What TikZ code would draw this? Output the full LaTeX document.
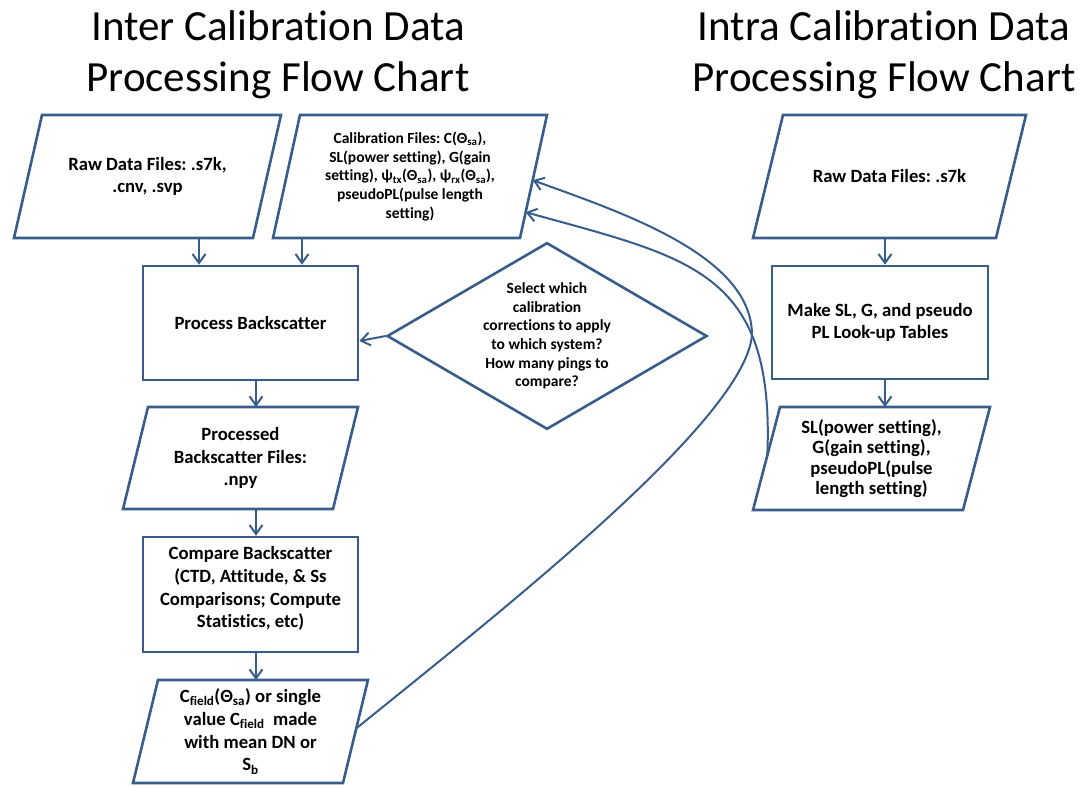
\documentclass[tikz,border=0pt]{standalone}
\usepackage{fontspec}
\setmainfont{Carlito}[Ligatures=NoCommon]
\usetikzlibrary{shapes.geometric,arrows.meta,calc}
\definecolor{bord}{RGB}{56,93,138}
\frenchspacing
\newcommand{\drawpara}[2]{%
  \draw[pline] ([xshift=#2]#1.north west) -- (#1.north east) --
    ([xshift=-#2]#1.south east) -- (#1.south west) -- cycle;}
\begin{document}
\begin{tikzpicture}[x=1pt,y=-1pt,
  box/.style={draw=bord, line width=2.6pt, fill=white, rectangle, inner sep=0pt},
  paranode/.style={rectangle, inner sep=0pt, outer sep=0pt},
  pline/.style={draw=bord, line width=2.6pt, line join=miter},
  tbig/.style={font=\bfseries\fontsize{18.7}{22.7}\selectfont, align=center},
  tsl/.style={font=\bfseries\fontsize{18.7}{20.3}\selectfont, align=center},
  tsmall/.style={font=\bfseries\fontsize{15.5}{18.7}\selectfont, align=center},
  arr/.style={draw=bord, line width=2pt, -{Straight Barb[length=9pt,width=13pt]}},
  ttl/.style={font=\fontsize{43}{51}\selectfont, align=center}]
\useasboundingbox (0,0) rectangle (1089,786);

\node[ttl] (title1) at (278,55) {Inter Calibration Data\\Processing Flow Chart};
\node[ttl] (title2) at (884,55) {Intra Calibration Data\\Processing Flow Chart};

% left column
\node[paranode, tbig, minimum width=267pt, minimum height=123pt] (raw1) at (147.5,176.5)
      {Raw Data Files: .s7k,\\.cnv, .svp};
\drawpara{raw1}{28pt}
\node[paranode, tsmall, minimum width=274pt, minimum height=123pt] (cal) at (410,176.5)
      {Calibration Files: C(Θ\textsubscript{sa}),\\SL(power setting), G(gain\\setting), ψ\textsubscript{tx}(Θ\textsubscript{sa}), ψ\textsubscript{rx}(Θ\textsubscript{sa}),\\pseudoPL(pulse length\\setting)};
\drawpara{cal}{27pt}
\node[box, tbig, minimum width=215pt, minimum height=114pt] (proc) at (250.5,323)
      {Process Backscatter};
\node[diamond, draw=bord, line width=2.6pt, fill=white, tsmall, inner sep=-12pt,
      minimum width=320pt, minimum height=178pt] (dia) at (547,336)
      {Select which\\calibration\\corrections to apply\\to which system?\\How many pings to\\compare?};
\node[paranode, tbig, minimum width=235pt, minimum height=102pt] (pbs) at (240.5,458)
      {Processed\\Backscatter Files:\\.npy};
\drawpara{pbs}{25pt}
\node[box, minimum width=215pt, minimum height=115pt,
      label={[tbig, yshift=6pt]center:{Compare Backscatter\\(CTD, Attitude, \& Ss\\Comparisons; Compute\\Statistics, etc)}}]
      (cmp) at (250.5,594.5) {};
\node[paranode, tbig, minimum width=235pt, minimum height=103pt] (cf) at (250.5,731.5)
      {C\textsubscript{field}(Θ\textsubscript{sa}) or single\\value C\textsubscript{field}~~made\\with mean DN or\\S\textsubscript{b}};
\drawpara{cf}{25pt}

% right column
\node[paranode, tbig, minimum width=273pt, minimum height=123pt] (raw2) at (889.5,176.5)
      {Raw Data Files: .s7k};
\drawpara{raw2}{30pt}
\node[box, tbig, minimum width=216pt, minimum height=113pt] (mk) at (880,322.5)
      {Make SL, G, and pseudo\\PL Look-up Tables};
\node[paranode, tsl, minimum width=237pt, minimum height=103pt] (sl) at (871.5,458.5)
      {SL(power setting),\\G(gain setting),\\pseudoPL(pulse\\length setting)};
\drawpara{sl}{27pt}

% connectors
\coordinate (xA) at (199,0);
\coordinate (xB) at (302,0);
\coordinate (xC) at (256,0);
\coordinate (xD) at (885,0);
\draw[arr] (raw1.south -| xA) -- (proc.north -| xA);
\draw[arr] (cal.south -| xB) -- (proc.north -| xB);
\draw[arr] (proc.south -| xC) -- (pbs.north -| xC);
\draw[arr] (pbs.south -| xC) -- (cmp.north -| xC);
\draw[arr] (cmp.south -| xC) -- (cf.north -| xC);
\draw[arr] (raw2.south -| xD) -- (mk.north -| xD);
\draw[arr] (mk.south -| xD) -- (sl.north -| xD);
\draw[arr] (dia.west) -- ([yshift=-18pt]proc.east);

\coordinate (bend) at (752,335);
\coordinate (calU) at ($(cal.north east)!0.53!([xshift=-27pt]cal.south east)$);
\coordinate (calL) at ($(cal.north east)!0.79!([xshift=-27pt]cal.south east)$);
\coordinate (cfE) at ($(cf.north east)!0.47!([xshift=-25pt]cf.south east)$);
\coordinate (slW) at ($([xshift=27pt]sl.north west)!0.47!(sl.south west)$);
\draw[arr] (cfE) .. controls (500,612) and (745,420) .. (bend)
           .. controls (752,255) and (620,212) .. (calU);
\draw[arr] (slW) .. controls (775,270) and (690,258) .. (calL);
\end{tikzpicture}
\end{document}
